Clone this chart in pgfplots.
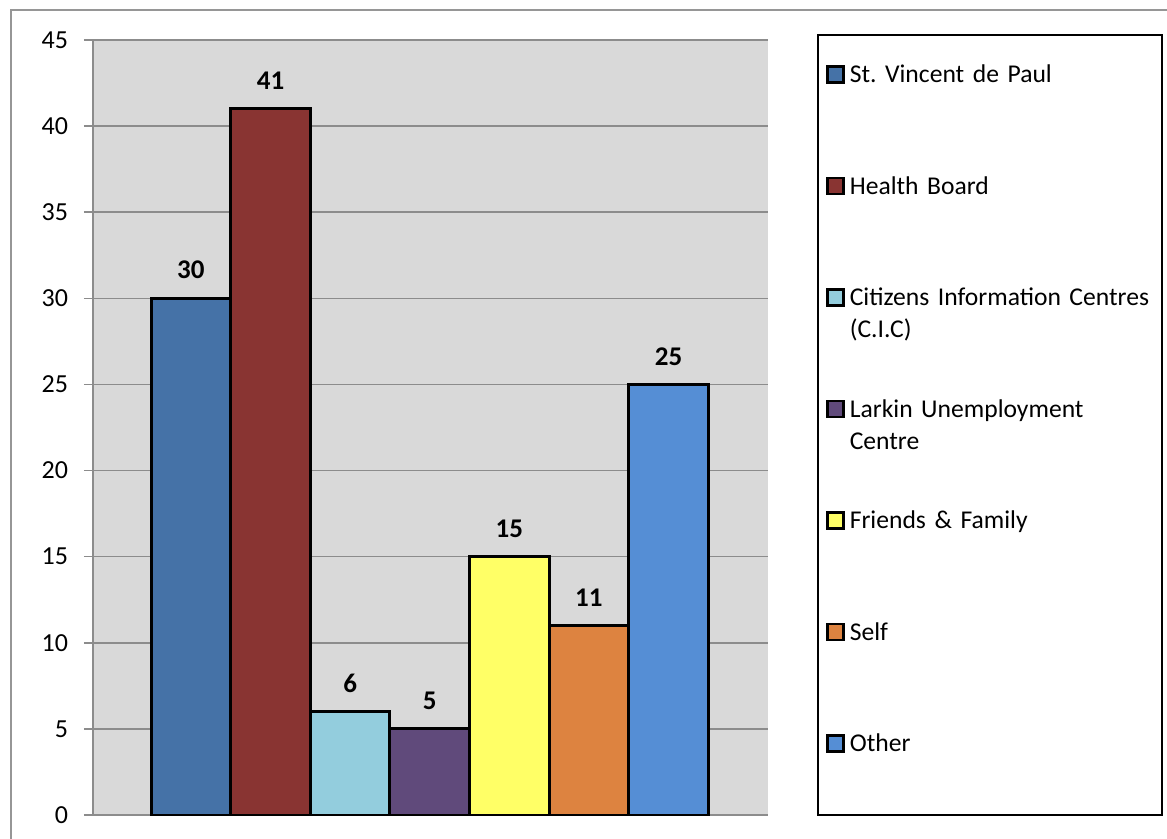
\documentclass[border=0pt]{standalone}
\usepackage{pgfplots}
\pgfplotsset{compat=1.18}
\usepackage{fontspec}
\setmainfont{Carlito}
\frenchspacing
\definecolor{c1}{HTML}{4572A7}
\definecolor{c2}{HTML}{893432}
\definecolor{c3}{HTML}{93CDDD}
\definecolor{c4}{HTML}{604A7B}
\definecolor{c5}{HTML}{FFFF66}
\definecolor{c6}{HTML}{DD8340}
\definecolor{c7}{HTML}{558ED5}
\definecolor{bgc}{HTML}{D9D9D9}
\definecolor{gridc}{HTML}{8C8C8C}
\definecolor{framec}{HTML}{969696}
\begin{document}
\begin{tikzpicture}
\clip (0pt,0pt) rectangle (583.5pt,-419.5pt);
\fill[white] (0pt,0pt) rectangle (583.5pt,-419.5pt);
\draw[framec, line width=1pt] (5.5pt,-430pt) -- (5.5pt,-5pt) -- (600pt,-5pt);
\begin{axis}[
  at={(46.5pt,-407.5pt)}, anchor=south west,
  scale only axis, width=337.5pt, height=387.5pt,
  ymin=0, ymax=45, ytick={0,5,...,45},
  xmin=-1.23, xmax=7.25, xtick=\empty,
  axis x line=bottom, axis y line=left,
  axis line style={-, draw=gridc, line width=0.75pt},
  ytick style={draw=gridc, line width=0.75pt},
  tick align=outside, major tick length=4.5pt,
  ymajorgrids, grid style={draw=gridc, line width=0.75pt},
  axis background/.style={fill=bgc},
  /pgf/number format/assume math mode=true,
  tick label style={font=\fontsize{13}{15}\selectfont, text=black},
  yticklabel style={xshift=-4.5pt},
  ybar, bar shift=0pt, bar width=1,
  every axis plot/.append style={draw=black, line width=1.5pt, bar shift=0pt, bar width=1},
  nodes near coords,
  every node near coord/.append style={font=\fontsize{13.5}{15}\selectfont\bfseries, text=black, yshift=5.5pt},
  legend image code/.code={\draw[#1, draw=black, line width=1.2pt] (0pt,-4pt) rectangle (8pt,4pt);},
  legend cell align=left,
  legend style={draw=none, fill=none, inner sep=0pt,
    at={(axis description cs:1.08593,0.97097)}, anchor=north west,
    row sep=44.25pt, column sep=2.5pt,
    nodes={font=\fontsize{12.8}{16}\selectfont\frenchspacing, text width=156pt, align=left,
      text height=10pt, text depth=1.5pt, inner sep=0pt, anchor=west}},
]
\addplot[fill=c1] coordinates {(0,30)};
\addlegendentry{St. Vincent de Paul}
\addplot[fill=c2] coordinates {(1,41)};
\addlegendentry{Health Board}
\addplot[fill=c3] coordinates {(2,6)};
\addlegendentry{Citizens Information Centres\\(C.I.C)}
\addplot[fill=c4] coordinates {(3,5)};
\addlegendentry{Larkin Unemployment\\Centre}
\addplot[fill=c5] coordinates {(4,15)};
\addlegendentry{Friends \& Family}
\addplot[fill=c6] coordinates {(5,11)};
\addlegendentry{Self}
\addplot[fill=c7] coordinates {(6,25)};
\addlegendentry{Other}
\end{axis}
\draw[black, line width=1pt] (409pt,-17.5pt) rectangle (581pt,-407.5pt);
\end{tikzpicture}
\end{document}
